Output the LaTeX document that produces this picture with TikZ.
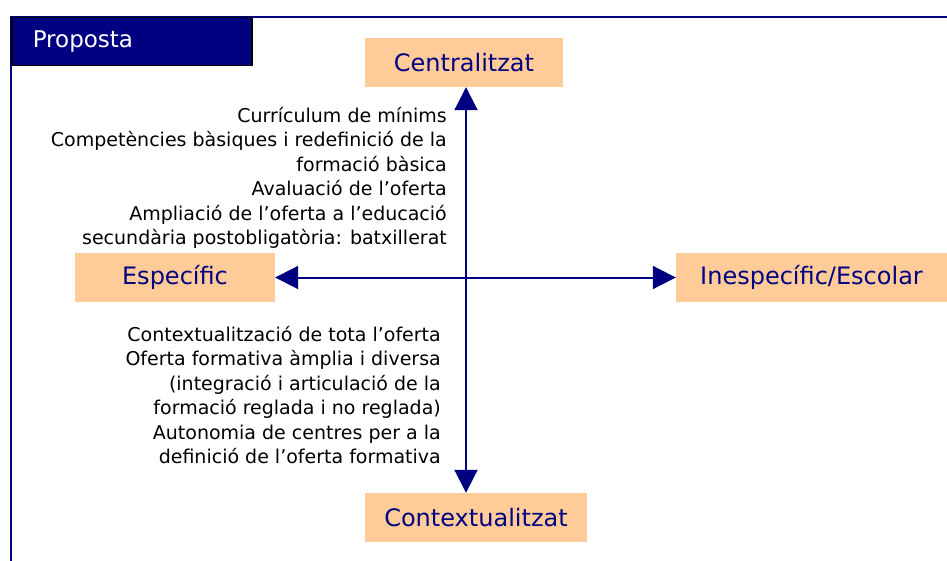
\documentclass[tikz,border=0pt]{standalone}
\usepackage{fontspec}
\setmainfont{DejaVu Sans}
\usetikzlibrary{positioning,arrows.meta}
\definecolor{navy}{HTML}{000080}
\definecolor{peach}{HTML}{FFCC99}

\begin{document}
\begin{tikzpicture}[x=1pt,y=1pt,
    axisbox/.style={fill=peach,text=navy,minimum height=49pt,inner sep=0pt,font=\fontsize{24}{28}\selectfont},
    axisarrow/.style={navy,line width=2pt,{Triangle[length=23pt,width=23pt]}-{Triangle[length=23pt,width=23pt]}},
    notes/.style={align=right,inner sep=0pt,font=\fontsize{19}{24.5}\selectfont}]
    \useasboundingbox (0,0) rectangle (947,-561);

    % Frame and title
    \draw[navy,line width=2pt] (11,-561) -- (11,-17) -- (947,-17);
    \node (title) [draw=black,line width=1.5pt,fill=navy,text=white,anchor=north west,
        text width=198pt,inner xsep=21pt,inner ysep=0pt,minimum height=48pt,align=left,
        font=\fontsize{23}{27}\selectfont] at (11,-17) {Proposta};

    % Poles
    \node (central) [axisbox,minimum width=198pt] at (464,-62.5) {Centralitzat};
    \node (especific) [axisbox,minimum width=200pt] at (175,-277.5) {Específic};
    \node (inespecific) [axisbox,minimum width=271pt] at (811.5,-277.5) {Inespecífic/Escolar};
    \node (context) [axisbox,minimum width=222pt] at (476,-517.5) {Contextualitzat};

    % Axes
    \draw[axisarrow] (central.south -| 466,0) -- (context.north -| 466,0);
    \draw[axisarrow] (especific.east) -- (inespecific.west);

    % Proposals
    \node (upper) [notes,anchor=north east] at (447,-107) {Currículum de mínims\\
        Competències bàsiques i redefinició de la\\
        formació bàsica\\
        Avaluació de l’oferta\\
        Ampliació de l’oferta a l’educació\\
        secundària postobligatòria: batxillerat};
    \node (lower) [notes,anchor=north east] at (441,-326) {Contextualització de tota l’oferta\\
        Oferta formativa àmplia i diversa\\
        (integració i articulació de la\\
        formació reglada i no reglada)\\
        Autonomia de centres per a la\\
        definició de l’oferta formativa};
\end{tikzpicture}
\end{document}
